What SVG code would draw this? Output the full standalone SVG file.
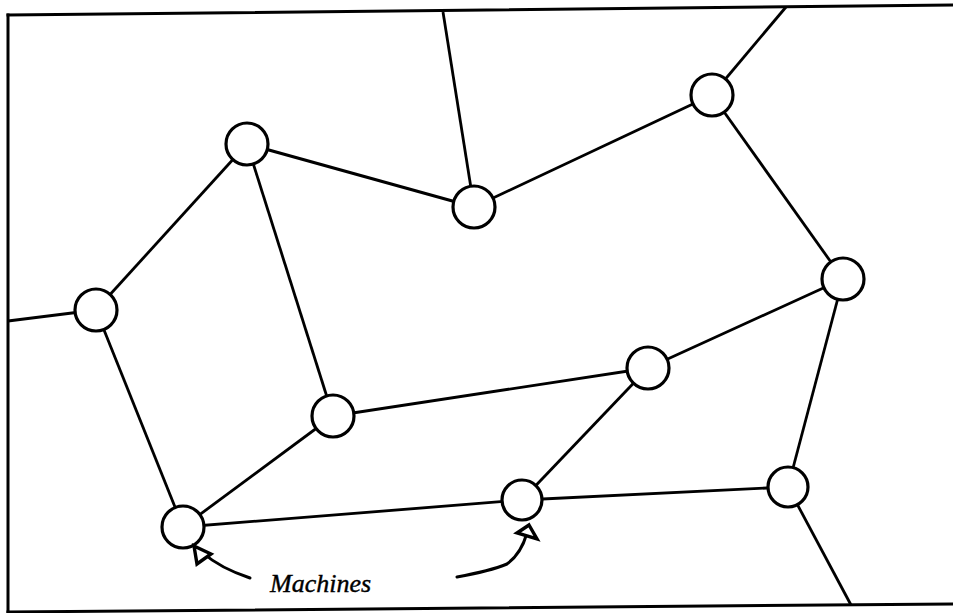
<svg xmlns="http://www.w3.org/2000/svg" width="953" height="613" viewBox="0 0 953 613">
<style>
.frame{stroke:#000;stroke-width:3;fill:none;stroke-linecap:square}
.edge{stroke:#000;stroke-width:2.8;fill:none}
.node{fill:#fff;stroke:#000;stroke-width:3.2}
.arrow{stroke:#000;stroke-width:3;fill:none;stroke-linecap:round}
.head{fill:#fff;stroke:#000;stroke-width:3.4;stroke-linejoin:miter}
.label{font-family:"Liberation Serif","Times New Roman",serif;font-style:italic;font-size:26px;fill:#000;stroke:#000;stroke-width:0.4}
</style>
<rect width="953" height="613" fill="#fff"/>
<g id="frame">
<line class="frame" x1="8" y1="15" x2="953" y2="5"/>
<line class="frame" x1="8" y1="15" x2="8" y2="613"/>
<line class="frame" x1="8" y1="612" x2="953" y2="604"/>
</g>
<g id="connectors">
<line class="edge" x1="96" y1="310" x2="8" y2="321"/>
<line class="edge" x1="96" y1="310" x2="247" y2="144"/>
<line class="edge" x1="96" y1="310" x2="183" y2="527"/>
<line class="edge" x1="247" y1="144" x2="474" y2="207" style="stroke-width:3.2"/>
<line class="edge" x1="247" y1="144" x2="333" y2="416"/>
<line class="edge" x1="474" y1="207" x2="443" y2="12"/>
<line class="edge" x1="474" y1="207" x2="712" y2="95"/>
<line class="edge" x1="712" y1="95" x2="786" y2="7"/>
<line class="edge" x1="712" y1="95" x2="843" y2="279"/>
<line class="edge" x1="843" y1="279" x2="648" y2="368"/>
<line class="edge" x1="843" y1="279" x2="788" y2="487"/>
<line class="edge" x1="648" y1="368" x2="333" y2="416"/>
<line class="edge" x1="648" y1="368" x2="522" y2="500"/>
<line class="edge" x1="333" y1="416" x2="183" y2="527"/>
<line class="edge" x1="183" y1="527" x2="522" y2="500"/>
<line class="edge" x1="522" y1="500" x2="788" y2="487"/>
<line class="edge" x1="788" y1="487" x2="851" y2="605"/>
</g>
<g id="node-a"><circle class="node" cx="247" cy="144" r="21"/></g>
<g id="node-b"><circle class="node" cx="712" cy="95" r="21"/></g>
<g id="node-c"><circle class="node" cx="474" cy="207" r="21"/></g>
<g id="node-d"><circle class="node" cx="843" cy="279" r="21"/></g>
<g id="node-e"><circle class="node" cx="648" cy="368" r="21"/></g>
<g id="node-f"><circle class="node" cx="96" cy="310" r="21"/></g>
<g id="node-g"><circle class="node" cx="333" cy="416" r="21"/></g>
<g id="node-h"><circle class="node" cx="183" cy="527" r="21"/></g>
<g id="node-i"><circle class="node" cx="522" cy="500" r="20"/></g>
<g id="node-j"><circle class="node" cx="788" cy="487" r="20"/></g>
<g id="label-machines">
<path class="arrow" d="M250,578 Q220,568 203,553"/>
<polygon class="head" points="194,546 211,554 197,564"/>
<path class="arrow" d="M457,577 Q490,571 507,564 Q521,554 527,533"/>
<polygon class="head" points="529,525 537,539 517,533"/>
<text class="label" x="270" y="592">Machines</text>
</g>
</svg>
